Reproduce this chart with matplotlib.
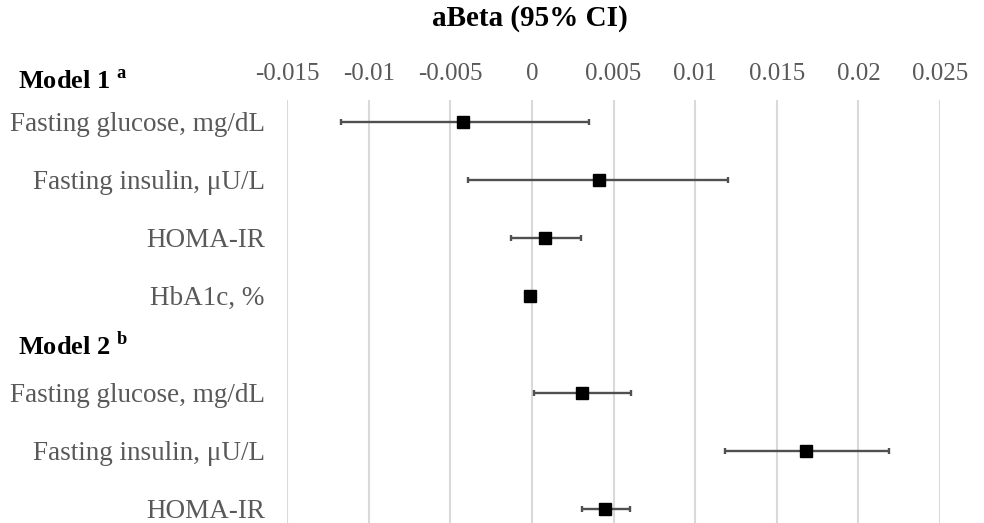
import numpy as np
import matplotlib
matplotlib.use("Agg")
import matplotlib.pyplot as plt
import matplotlib.transforms as mtransforms

plt.rcParams['font.family'] = ['Liberation Serif', 'DejaVu Serif']
plt.rcParams['mathtext.fontset'] = 'custom'
plt.rcParams['mathtext.rm'] = 'Liberation Serif'
plt.rcParams['mathtext.bf'] = 'Liberation Serif:bold'

# model 1 (a)
labels_m1 = ["Fasting glucose, mg/dL", "Fasting insulin, \u03bcU/L", "HOMA-IR", "HbA1c, %"]
beta_m1 = [-0.0042, 0.0041, 0.0008, -0.0001]
low_m1 = [-0.0117, -0.0039, -0.0013, -0.0003]
high_m1 = [0.0035, 0.0120, 0.0030, 0.0001]

# model 2 (b)
labels_m2 = ["Fasting glucose, mg/dL", "Fasting insulin, \u03bcU/L", "HOMA-IR"]
beta_m2 = [0.0031, 0.0168, 0.0045]
low_m2 = [0.0001, 0.0118, 0.0031]
high_m2 = [0.0061, 0.0219, 0.0060]

xticks = [-0.015, -0.01, -0.005, 0, 0.005, 0.01, 0.015, 0.02, 0.025]
xtick_labels = ["-0.015", "-0.01", "-0.005", "0", "0.005", "0.01", "0.015", "0.02", "0.025"]

W, H = 984, 523
fig = plt.figure(figsize=(W / 100, H / 100), dpi=100)
ax = fig.add_axes([287 / W, 0, (940 - 287) / W, (523 - 100) / H])

y1 = np.arange(len(labels_m1)) + 1.0
y2 = np.arange(len(labels_m2)) + 5.67
ys = np.concatenate([y1, y2])
beta = np.array(beta_m1 + beta_m2)
low = np.array(low_m1 + low_m2)
high = np.array(high_m1 + high_m2)

ax.errorbar(beta, ys, xerr=[beta - low, high - beta], fmt='none',
            ecolor='#505050', elinewidth=1.7, capsize=2, capthick=1.7, zorder=3)
ax.plot(beta, ys, 's', color='black', markersize=8, zorder=4)

ax.set_xlim(-0.015, 0.025)
ax.set_ylim(7.92, 0.626)
ax.set_xticks(xticks)
ax.set_xticklabels(xtick_labels)
ax.xaxis.tick_top()
ax.tick_params(axis='x', length=0, pad=11, labelsize=18, labelcolor='#595959')
ax.set_yticks(ys)
ax.set_yticklabels(labels_m1 + labels_m2)
ax.tick_params(axis='y', length=0, pad=16, labelsize=19.5, labelcolor='#595959')
ax.grid(axis='x', color='#d9d9d9', linewidth=1.5)
ax.set_axisbelow(True)
for s in ax.spines.values():
    s.set_visible(False)

trans = mtransforms.blended_transform_factory(fig.transFigure, ax.transData)
ax.text(18 / W, 0.32, "Model 1 $^{\\mathbf{a}}$", transform=trans, fontsize=19,
        fontweight='bold', va='center', ha='left', clip_on=False)
ax.text(18 / W, 4.86, "Model 2 $^{\\mathbf{b}}$", transform=trans, fontsize=19,
        fontweight='bold', va='center', ha='left', clip_on=False)

fig.text(530 / W, 1 - 18 / H, "aBeta (95% CI)", fontsize=21, fontweight='bold',
         ha='center', va='center')

fig.savefig("out.png", dpi=100)
